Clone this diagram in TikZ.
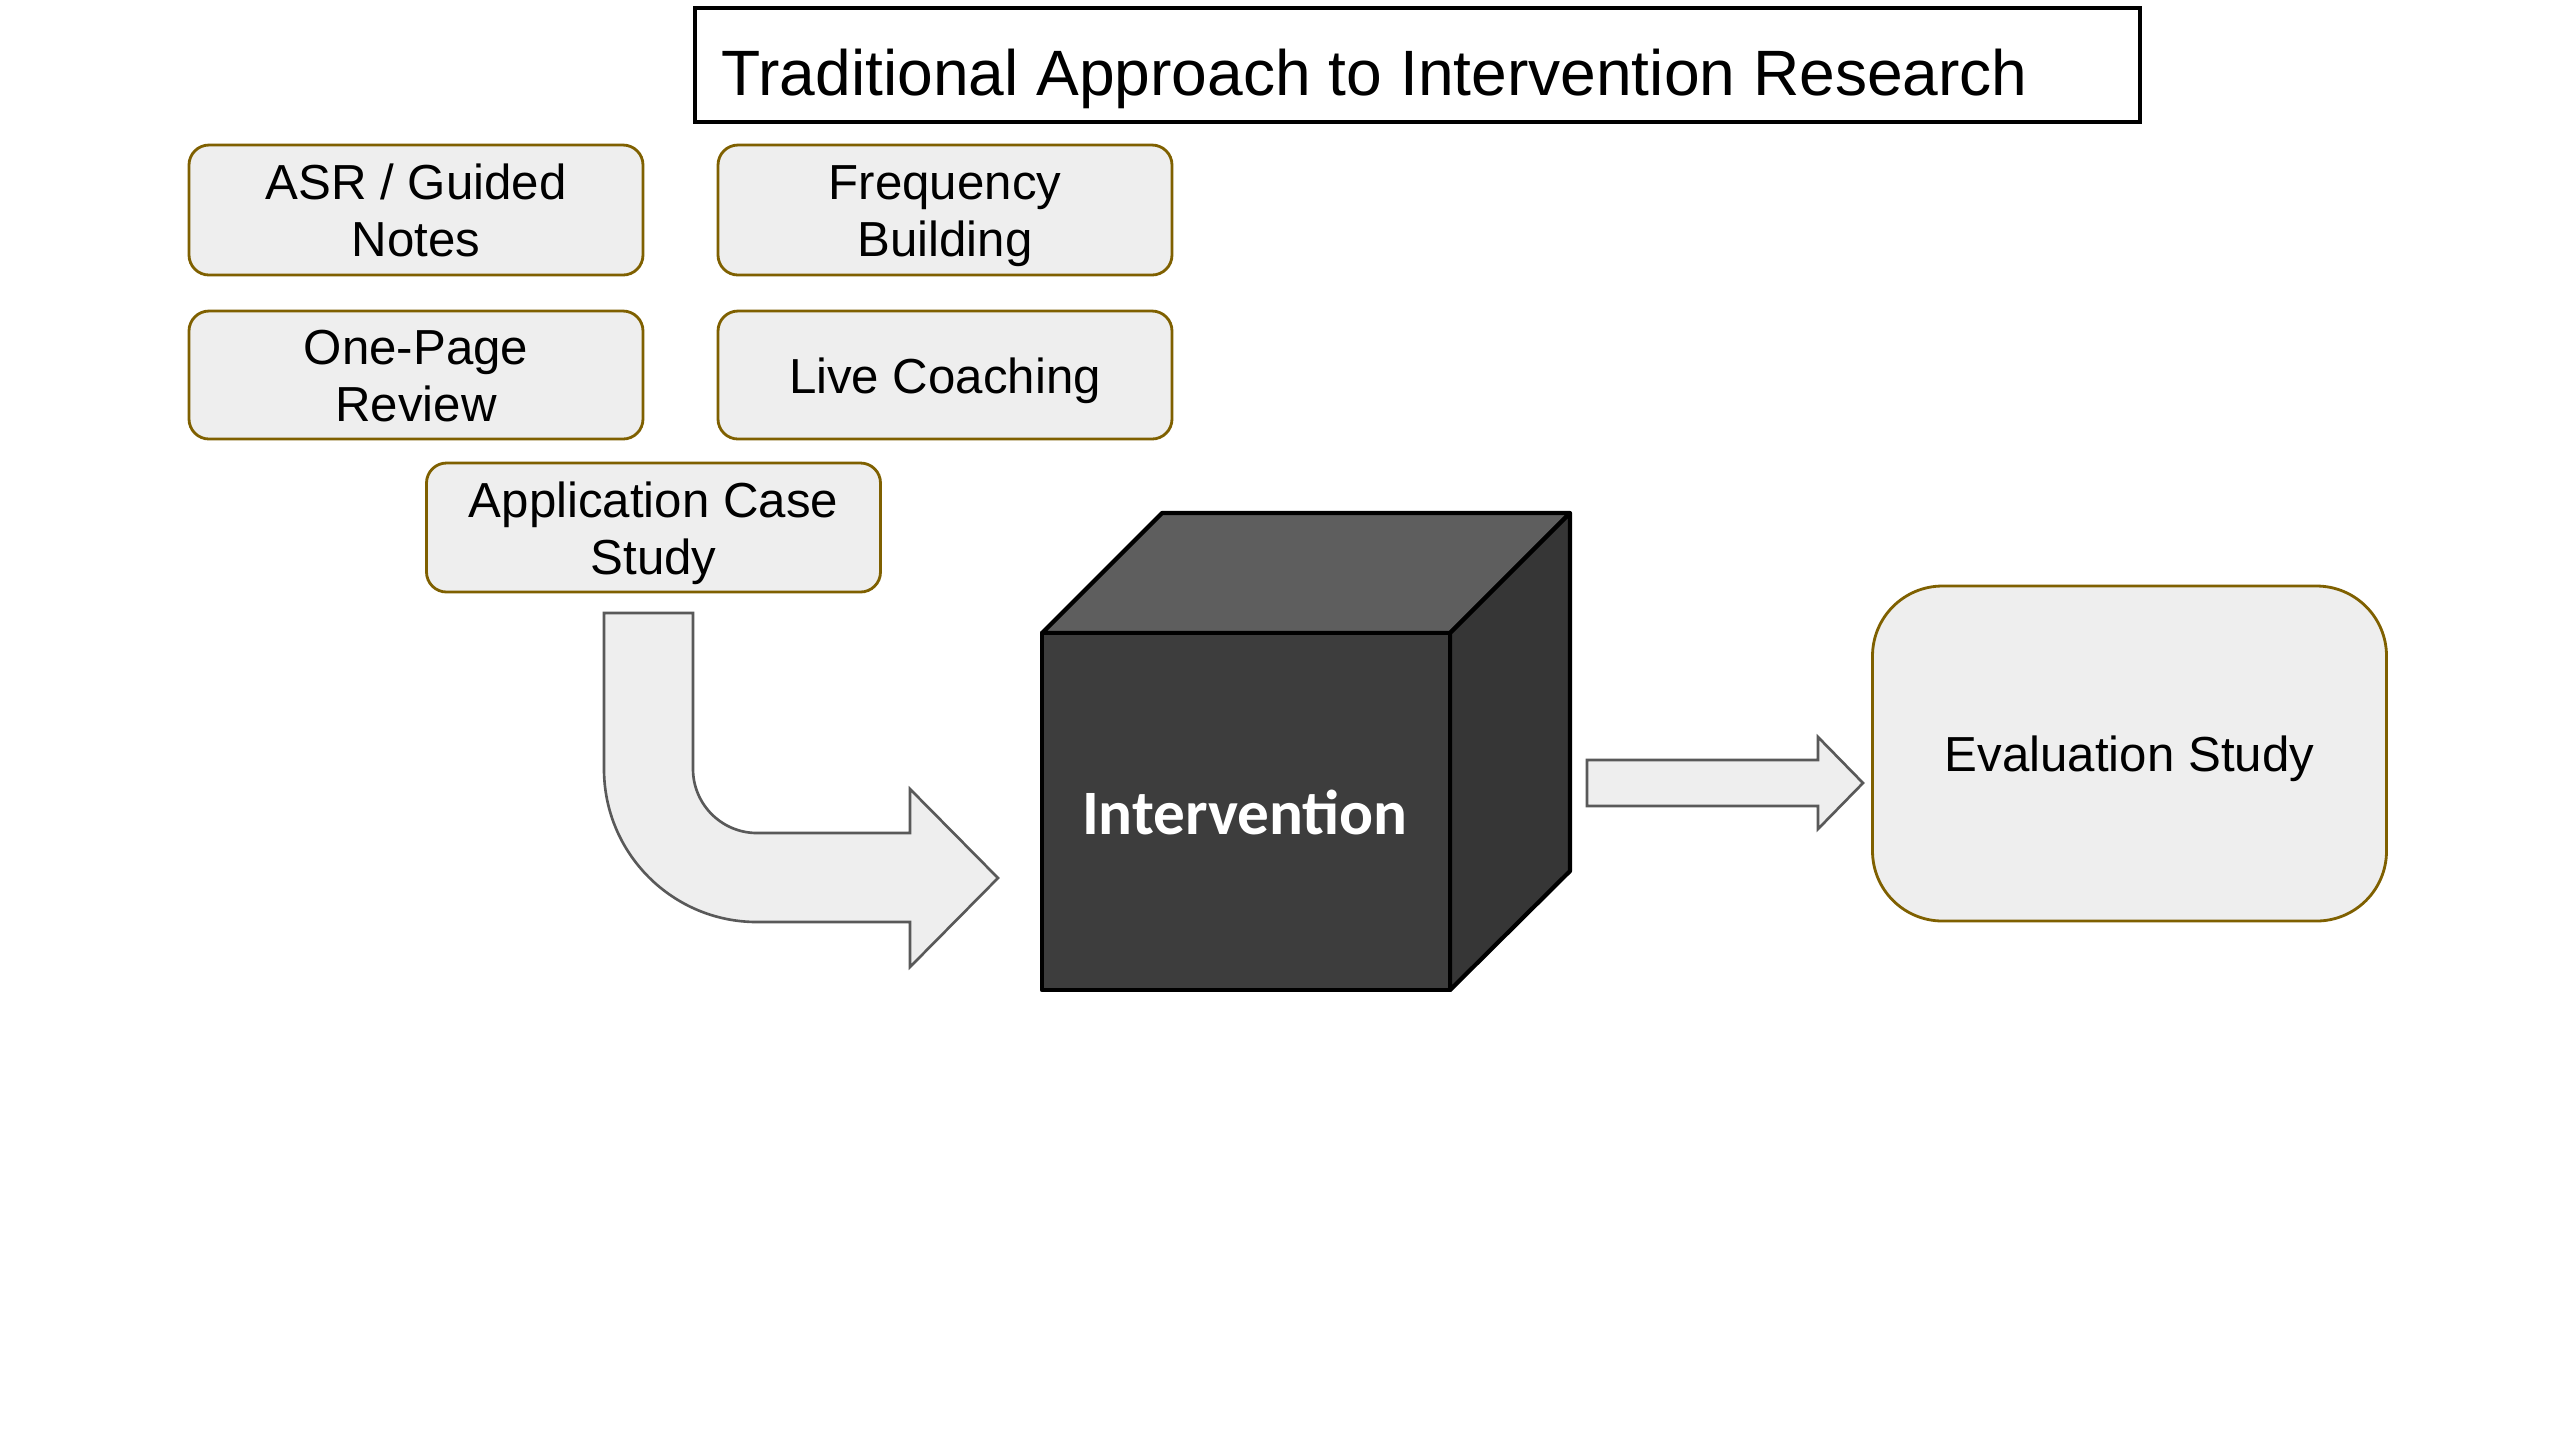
\documentclass[tikz,border=0pt]{standalone}
\usepackage{fontspec}
\setmainfont{Liberation Sans}
\newfontfamily\cubefont{Carlito}
\definecolor{boxfill}{HTML}{EEEEEE}
\definecolor{boxedge}{HTML}{7F6000}
\definecolor{arrowedge}{HTML}{595959}
\definecolor{cubetop}{HTML}{5E5E5E}
\definecolor{cubefront}{HTML}{3D3D3D}
\definecolor{cuberight}{HTML}{363636}
\tikzset{
  pill/.style={draw=boxedge, fill=boxfill, line width=0.8pt, rounded corners=2mm,
    minimum width=45.4mm, minimum height=13mm, align=center, inner sep=0pt,
    text height=10.25pt, text depth=0pt,
    font=\fontsize{14}{16.2}\selectfont},
  twoline/.style={text height=26.45pt},
  bigpill/.style={pill, rounded corners=7mm, minimum width=51.4mm, minimum height=33.5mm},
  blockarrow/.style={draw=arrowedge, fill=boxfill, line width=0.75pt, line join=miter},
  cubeface/.style={draw=black, line width=1.2pt, line join=round},
}
\begin{document}
\begin{tikzpicture}[x=0.1mm, y=-0.1mm]
\useasboundingbox (0,0) rectangle (2552,1432);
\fill[white] (0,0) rectangle (2552,1432);

% title
\node[draw=black, line width=0.9pt, fill=white, minimum width=144.5mm, minimum height=11.4mm, inner sep=0pt] (title) at (1417.5,65) {};
\node[anchor=base west, inner sep=0pt, font=\fontsize{18.25}{21}\selectfont] (titletext) at (721,95) {Traditional Approach to Intervention Research};

% boxes
\node[pill, twoline] (asr) at (416,210) {ASR / Guided\\Notes};
\node[pill, twoline] (freq) at (945,210) {Frequency\\Building};
\node[pill, twoline, minimum height=12.8mm] (onepage) at (416,375) {One-Page\\Review};
\node[pill, minimum height=12.8mm] (live) at (945,375) {Live Coaching};
\node[pill, twoline, minimum height=12.9mm] (app) at (653.5,527.5) {Application Case\\Study};
\node[bigpill] (eval) at (2129.5,753.5) {Evaluation Study};

% cube
\path[cubeface, fill=cubetop] (1042,633) -- (1162,513) -- (1570,513) -- (1450,633) -- cycle;
\path[cubeface, fill=cuberight] (1450,633) -- (1570,513) -- (1570,871) -- (1450,990) -- cycle;
\node[cubeface, fill=cubefront, minimum width=40.8mm, minimum height=35.7mm, inner sep=0pt] (cube) at (1246,811.5) {};
\node[anchor=base, inner sep=0pt, text=white, font=\cubefont\bfseries\fontsize{18}{21}\selectfont] (cubetext) at (1245,834) {Intervention};

% bent arrow from application case study to cube
\path[blockarrow] (604,613) -- (693,613) -- (693,769)
  .. controls (693,804.3) and (721.7,833) .. (757,833)
  -- (910,833) -- (910,789) -- (998,878) -- (910,967) -- (910,922) -- (757,922)
  .. controls (672.5,922) and (604,853.5) .. (604,769) -- cycle;

% straight arrow from cube to evaluation
\path[blockarrow] (1587,760) -- (1818,760) -- (1818,737) -- (1863,783) -- (1818,829) -- (1818,806) -- (1587,806) -- cycle;
\end{tikzpicture}
\end{document}
